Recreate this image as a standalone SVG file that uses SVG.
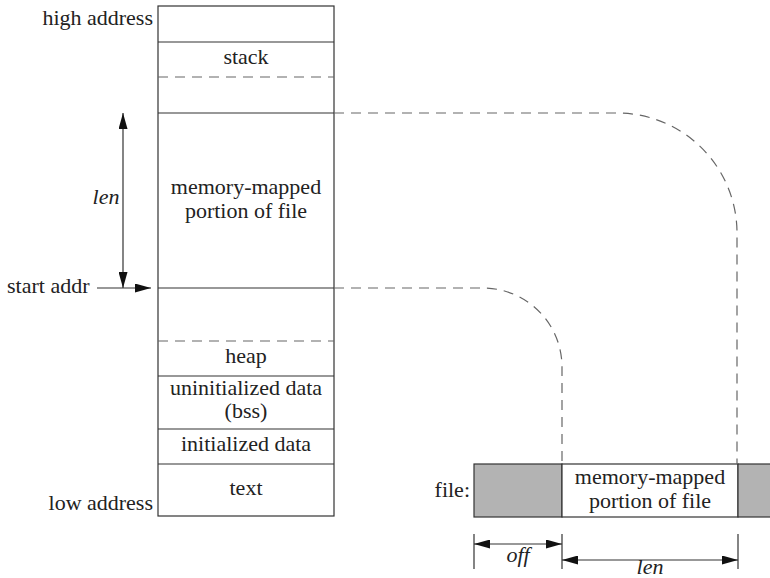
<svg xmlns="http://www.w3.org/2000/svg" width="770" height="578" viewBox="0 0 770 578">
<defs>
<style>
text{font-family:"Liberation Serif","Times New Roman",serif;font-size:22px;fill:#222}
.c{text-anchor:middle}
.r{text-anchor:end}
.i{font-style:italic}
.box{fill:#fff;stroke:#333;stroke-width:1.2}
.ln{stroke:#333;stroke-width:1.2;fill:none}
.dash{stroke:#666;stroke-width:1.2;fill:none;stroke-dasharray:10 7}
.gray{fill:#b3b3b3;stroke:#333;stroke-width:1.2}
</style>
<marker id="ah" viewBox="0 0 16 9" refX="16" refY="4.5" markerWidth="16" markerHeight="9" markerUnits="userSpaceOnUse" orient="auto-start-reverse">
<path d="M0,0 L16,4.5 L0,9 Z" fill="#111"/>
</marker>
</defs>

<g id="memory">
<rect class="box" x="158" y="6" width="176" height="510"/>
<line class="ln" x1="158" y1="42" x2="334" y2="42"/>
<line class="dash" x1="158" y1="77" x2="334" y2="77"/>
<line class="ln" x1="158" y1="113" x2="334" y2="113"/>
<line class="ln" x1="158" y1="288" x2="334" y2="288"/>
<line class="dash" x1="158" y1="341" x2="334" y2="341"/>
<line class="ln" x1="158" y1="376" x2="334" y2="376"/>
<line class="ln" x1="158" y1="429" x2="334" y2="429"/>
<line class="ln" x1="158" y1="464" x2="334" y2="464"/>
<text class="c" x="246" y="64">stack</text>
<text class="c" x="246" y="194">memory-mapped</text>
<text class="c" x="246" y="218">portion of file</text>
<text class="c" x="246" y="363">heap</text>
<text class="c" x="246" y="395">uninitialized data</text>
<text class="c" x="246" y="418">(bss)</text>
<text class="c" x="246" y="451">initialized data</text>
<text class="c" x="246" y="495">text</text>
</g>

<g id="labels">
<text class="r" x="153" y="25">high address</text>
<text class="r" x="153" y="510">low address</text>
<text x="7" y="293">start addr</text>
<text class="c i" x="106" y="204">len</text>
</g>

<g id="file">
<rect class="gray" x="474" y="464" width="88" height="53"/>
<rect class="box" x="562" y="464" width="176" height="53"/>
<rect class="gray" x="738" y="464" width="40" height="53"/>
<text class="r" x="470" y="497">file:</text>
<text class="c" x="650" y="484">memory-mapped</text>
<text class="c" x="650" y="508">portion of file</text>
</g>

<g id="connectors">
<path class="dash" d="M334,113 H617 A120,120 0 0 1 737,233 V464"/>
<path class="dash" d="M334,288 H483 A79,79 0 0 1 562,367 V464"/>
<line class="ln" x1="123" y1="113" x2="123" y2="288" marker-start="url(#ah)" marker-end="url(#ah)"/>
<line class="ln" x1="97" y1="288" x2="151" y2="288" marker-end="url(#ah)"/>
<line class="ln" x1="474" y1="534" x2="474" y2="569"/>
<line class="ln" x1="562" y1="534" x2="562" y2="569"/>
<line class="ln" x1="738" y1="534" x2="738" y2="569"/>
<line class="ln" x1="474" y1="544" x2="562" y2="544" marker-start="url(#ah)" marker-end="url(#ah)"/>
<line class="ln" x1="562" y1="560" x2="738" y2="560" marker-start="url(#ah)" marker-end="url(#ah)"/>
<text class="c i" x="518" y="562">off</text>
<text class="c i" x="650" y="574" font-size="19">len</text>
</g>
</svg>
